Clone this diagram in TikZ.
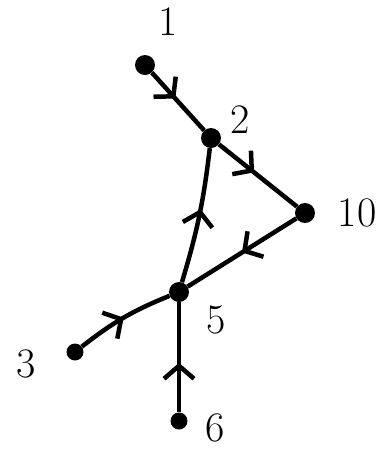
\documentclass[tikz,border=0pt]{standalone}
\usetikzlibrary{arrows.meta,decorations.markings}

\tikzset{
  vtx/.style={circle, fill, inner sep=0pt, minimum size=20pt},
  lbl/.style={font=\fontsize{42}{42}\selectfont},
  midarrow/.style={line width=4.5pt, postaction={decorate},
    decoration={markings, mark=at position #1 with
      {\arrow{Straight Barb[length=13pt,width=30pt,line width=4.5pt]}}}},
  midarrow/.default=0.5
}

\begin{document}
\begin{tikzpicture}[x=1pt,y=-1pt]

\useasboundingbox (0,0) rectangle (390,451);

% ---------- vertices ----------
\node[vtx] (v1) at (145,65) {};
\node[vtx] (v2) at (211,138) {};
\node[vtx] (v10) at (305,213) {};
\node[vtx] (v5) at (179,292) {};
\node[vtx, minimum size=17pt] (v3) at (75,352) {};
\node[vtx, minimum size=17pt] (v6) at (179,421) {};

% ---------- labels ----------
\node[lbl] (l1) at (168,22) {1};
\node[lbl] (l2) at (240,120) {2};
\node[lbl] (l10) at (357,213) {10};
\node[lbl] (l5) at (216,320) {5};
\node[lbl] (l3) at (26,364) {3};
\node[lbl] (l6) at (215,428) {6};

% ---------- edges ----------
\draw[midarrow=0.45] (v1) -- (v2);
\draw[midarrow=0.45] (v2) -- (v10);
\draw[midarrow=0.5] (v10) -- (v5);
\draw[midarrow=0.55] (v5) to[bend right=5] (v2);
\draw[midarrow=0.5] (v3) to[bend left=8] (v5);
\draw[midarrow=0.45] (v6) -- (v5);

\end{tikzpicture}
\end{document}
